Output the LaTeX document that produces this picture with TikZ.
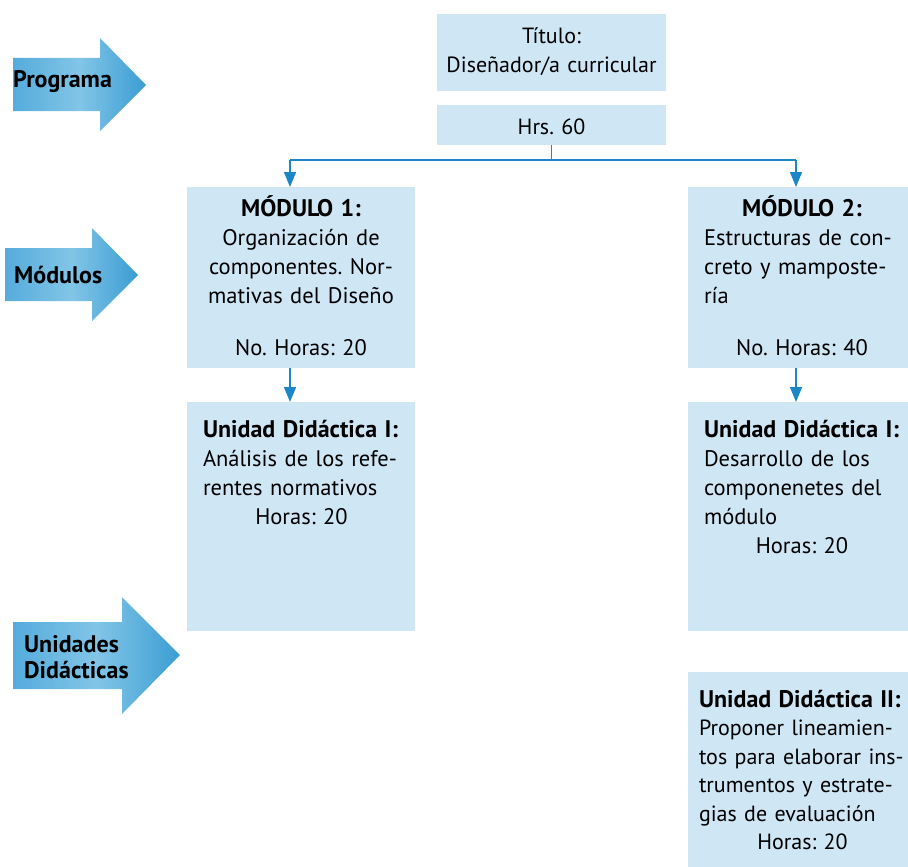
\documentclass[tikz,border=0pt]{standalone}
\usepackage{fontspec}
\setmainfont{PT Sans}
\usetikzlibrary{arrows.meta,calc}
\definecolor{boxfill}{HTML}{CFE6F4}
\definecolor{connblue}{HTML}{1B87C9}
\definecolor{arrL}{HTML}{55ACDC}
\definecolor{arrM}{HTML}{82C5E7}
\definecolor{arrR}{HTML}{3B9DD3}
\frenchspacing
\newcommand\jline[2]{\makebox[#1][s]{#2}}
\newcommand\lline[2]{\makebox[#1][l]{#2}}
\newcommand\hd[1]{{\bfseries\fontsize{24}{29}\selectfont #1}}
\begin{document}
\begin{tikzpicture}[x=1pt,y=-1pt,
  box/.style={fill=boxfill, draw=none, inner sep=0pt, anchor=north west},
  txt/.style={inner sep=0pt, font=\fontsize{22.5}{29}\selectfont, anchor=base},
  lbl/.style={inner sep=0pt, font=\bfseries\fontsize{24}{26}\selectfont, anchor=base west},
  conn/.style={draw=connblue, line width=1.4pt},
  tipped/.style={-{Triangle[width=12pt,length=15pt]}},
  bigarrow/.style={left color=arrL, right color=arrR, middle color=arrM}]
\useasboundingbox (0,0) rectangle (908,867);

% left arrows
\shade[bigarrow] (13,58) -- (100,58) -- (100,38) -- (146,85) -- (100,131) -- (100,111) -- (13,111) -- cycle;
\shade[bigarrow] (5,248) -- (92,248) -- (92,228) -- (138,275) -- (92,321) -- (92,301) -- (5,301) -- cycle;
\shade[bigarrow] (13,622) -- (122,622) -- (122,597) -- (180,655) -- (122,714) -- (122,689) -- (13,689) -- cycle;
\node[lbl] (lprog) at (13,88) {Programa};
\node[lbl] (lmod) at (14,283) {Módulos};
\node[lbl, text width=150pt, align=left] (luni) at (24,652) {Unidades\\Didácticas};

% boxes
\node[box, minimum width=229pt, minimum height=77pt] (title) at (437,14) {};
\node[box, minimum width=229pt, minimum height=40pt] (hrs) at (437,105) {};
\node[box, minimum width=228pt, minimum height=181pt] (m1) at (187,187) {};
\node[box, minimum width=220pt, minimum height=181pt] (m2) at (688,187) {};
\node[box, minimum width=228pt, minimum height=229pt] (u1) at (187,402) {};
\node[box, minimum width=220pt, minimum height=229pt] (u2) at (688,402) {};
\node[box, minimum width=220pt, minimum height=195pt] (u3) at (688,672) {};

% texts
\node[txt, font=\fontsize{22}{29}\selectfont, text width=220pt, align=center] (titlet) at (551.5,44) {Título:\\Diseñador/a curricular};
\node[txt, font=\fontsize{22}{29}\selectfont, text width=220pt, align=center] (hrst) at (551.5,134) {Hrs. 60};
\node[txt, text width=210pt, align=center] (m1t) at (301,216)
  {\hd{MÓDULO 1:}\\Organización de\\componentes. Nor-\\mativas del Diseño\\[23pt]No. Horas: 20};
\node[txt, text width=196pt, align=center] (m2t) at (802,216)
  {\hd{MÓDULO 2:}\\\jline{196pt}{Estructuras de con-}\\\jline{196pt}{creto y mamposte-}\\\lline{196pt}{ría}\\[23pt]No. Horas: 40};
\node[txt, text width=197pt, align=center] (u1t) at (301.5,437)
  {\lline{197pt}{\hd{Unidad Didáctica I:}}\\\jline{197pt}{Análisis de los refe-}\\\lline{197pt}{rentes normativos}\\Horas: 20};
\node[txt, text width=196pt, align=center] (u2t) at (802,437)
  {\lline{196pt}{\hd{Unidad Didáctica I:}}\\\jline{196pt}{Desarrollo de los}\\\jline{196pt}{componenetes del}\\\lline{196pt}{módulo}\\Horas: 20};
\node[txt, font=\fontsize{22}{28.5}\selectfont, text width=207pt, align=center] (u3t) at (802.5,707)
  {\lline{207pt}{\hd{Unidad Didáctica II:}}\\\jline{207pt}{Proponer lineamien-}\\\jline{207pt}{tos para elaborar ins-}\\\jline{207pt}{trumentos y estrate-}\\\lline{207pt}{gias de evaluación}\\Horas: 20};

% connectors
\coordinate (jL) at (290,160);
\coordinate (jR) at (796,160);
\draw[conn] (hrs.south) |- (jL);
\draw[conn] (hrs.south) |- (jR);
\draw[conn, tipped] (jL) -- (jL |- m1.north);
\draw[conn, tipped] (jR) -- (jR |- m2.north);
\draw[conn, tipped] (jL |- m1.south) -- (jL |- u1.north);
\draw[conn, tipped] (jR |- m2.south) -- (jR |- u2.north);
\end{tikzpicture}
\end{document}
